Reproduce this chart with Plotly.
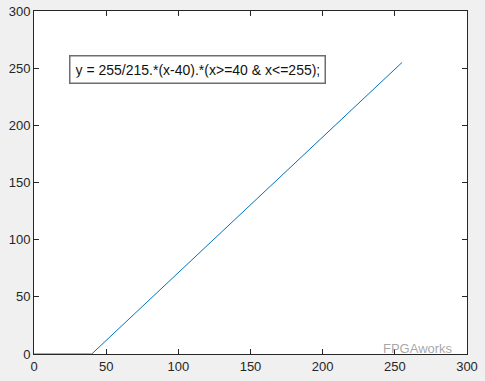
import plotly.graph_objects as go

x_vals = [0, 40, 255]
y_vals = [0, 0, 255]
x_ticks = [0, 50, 100, 150, 200, 250, 300]
y_ticks = [0, 50, 100, 150, 200, 250, 300]
label_text = "y = 255/215.*(x-40).*(x>=40 & x<=255);"
watermark = "FPGAworks"

fig = go.Figure()
fig.add_trace(go.Scatter(x=x_vals, y=y_vals, mode="lines",
                         line=dict(color="#0072BD", width=1), hoverinfo="skip"))

axis_common = dict(showgrid=False, zeroline=False, showline=True, linecolor="#262626",
                   linewidth=1, mirror="ticks", ticks="inside", ticklen=5, tickcolor="#262626",
                   automargin=False,
                   tickfont=dict(family="Liberation Sans, Arial", size=13, color="#262626"))

fig.update_layout(
    width=485, height=381,
    margin=dict(l=34, r=18, t=11, b=27),
    paper_bgcolor="#f0f0f0", plot_bgcolor="white",
    showlegend=False,
    xaxis=dict(range=[0, 300], tickvals=x_ticks, **axis_common),
    yaxis=dict(range=[0, 300], tickvals=y_ticks, **axis_common),
    font=dict(family="Liberation Sans, Arial"),
)

fig.add_annotation(x=24.3, y=249, xref="x", yref="y", xanchor="left", yanchor="middle",
                   text=label_text, showarrow=False, align="left",
                   font=dict(size=14, color="#111111", family="Liberation Sans, Arial"),
                   bgcolor="white", bordercolor="#6e6e6e", borderwidth=1.5,
                   borderpad=5, width=244)

fig.add_annotation(x=1.0, y=0.0, xref="paper", yref="paper", xanchor="right", yanchor="bottom",
                   text=watermark, showarrow=False,
                   font=dict(size=13, color="rgba(150,150,150,0.85)", family="Liberation Sans, Arial"),
                   xshift=-12, yshift=-4)

fig.write_html("out.html")
